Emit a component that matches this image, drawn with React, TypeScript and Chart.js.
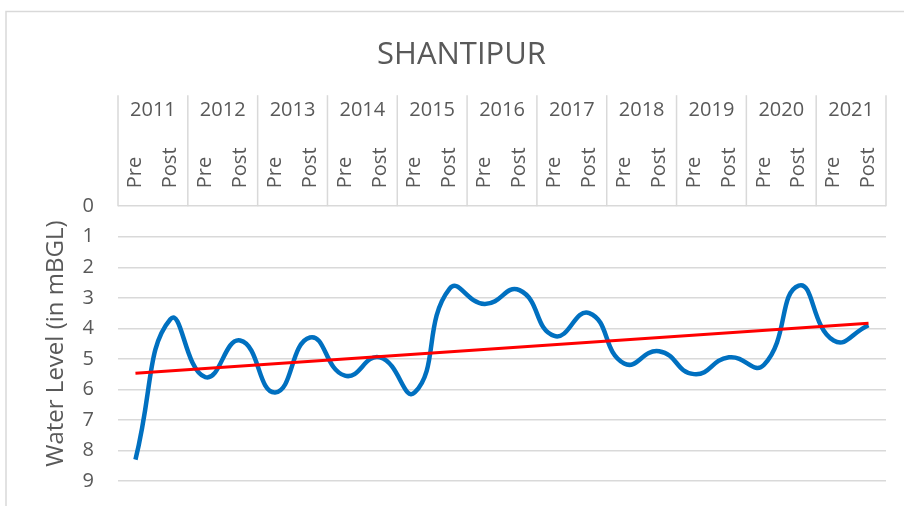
import React, { useEffect, useRef } from "react";
import { Chart, registerables } from "chart.js";

Chart.register(...registerables);

const years = ["2011", "2012", "2013", "2014", "2015", "2016", "2017", "2018", "2019", "2020", "2021"];
const seasons = ["Pre", "Post"];
const preLevels = [8.3, 5.6, 6.1, 5.55, 6.1, 3.2, 4.25, 5.15, 5.5, 5.2, 4.4];
const postLevels = [3.7, 4.4, 4.3, 4.95, 2.7, 2.75, 3.5, 4.75, 4.95, 2.6, 3.9];
const trendEnds = [5.47, 3.83];
const chartTitle = "SHANTIPUR";
const yAxisTitle = "Water Level (in mBGL)";

const FONT = "'Open Sans', 'DejaVu Sans', sans-serif";
const TEXT = "#595959";
const GRID = "#d9d9d9";

const seasonLabels = years.flatMap(() => seasons);
const levelSeries = years.flatMap((_, i) => [preLevels[i], postLevels[i]]);
const trendSeries = seasonLabels.map((_, i) =>
  i === 0 ? trendEnds[0] : i === seasonLabels.length - 1 ? trendEnds[1] : null
);

const framePlugin = {
  id: "frame",
  beforeDraw(chart: any) {
    const { ctx, width, height } = chart;
    ctx.save();
    ctx.fillStyle = "#ffffff";
    ctx.fillRect(0, 0, width, height);
    ctx.strokeStyle = GRID;
    ctx.lineWidth = 1.5;
    ctx.strokeRect(6, 11.5, width + 100, height + 100);
    ctx.restore();
  },
};

const separatorPlugin = {
  id: "yearSeparators",
  afterDraw(chart: any) {
    const { ctx, chartArea } = chart;
    const xs = chart.scales.x;
    const ys = chart.scales.x2;
    const half = (xs.getPixelForValue(1) - xs.getPixelForValue(0)) / 2;
    ctx.save();
    ctx.strokeStyle = GRID;
    ctx.lineWidth = 1.5;
    for (let k = 0; k <= years.length; k++) {
      const x =
        k < years.length
          ? xs.getPixelForValue(2 * k) - half
          : xs.getPixelForValue(2 * k - 1) + half;
      ctx.beginPath();
      ctx.moveTo(x, ys.top);
      ctx.lineTo(x, chartArea.top);
      ctx.stroke();
    }
    ctx.restore();
  },
};

export default function App() {
  const ref = useRef<HTMLCanvasElement | null>(null);

  useEffect(() => {
    if (!ref.current) return;
    const chart = new Chart(ref.current, {
      type: "line",
      data: {
        labels: seasonLabels,
        datasets: [
          {
            label: "Trend",
            data: trendSeries,
            xAxisID: "x",
            borderColor: "#ff0000",
            borderWidth: 3,
            pointRadius: 0,
            tension: 0,
            spanGaps: true,
            order: 0,
          },
          {
            label: "Water Level",
            data: levelSeries,
            xAxisID: "x",
            borderColor: "#0070c0",
            borderWidth: 4.5,
            pointRadius: 0,
            tension: 0.5,
            order: 1,
          },
        ],
      },
      options: {
        responsive: false,
        animation: false,
        layout: { padding: { left: 37, right: 18, top: 0, bottom: 25 } },
        plugins: {
          legend: { display: false },
          tooltip: { enabled: false },
          title: {
            display: true,
            text: chartTitle,
            color: TEXT,
            font: { family: FONT, size: 31, weight: "normal" },
            padding: { top: 37, bottom: 21 },
          },
        },
        scales: {
          x: {
            type: "category",
            position: "top",
            offset: true,
            weight: 0,
            grid: { display: false, drawTicks: false },
            border: { display: false },
            ticks: {
              color: TEXT,
              font: { family: FONT, size: 20 },
              minRotation: 90,
              maxRotation: 90,
              autoSkip: false,
              padding: 18,
              labelOffset: 24,
            },
            afterFit(scale: any) {
              scale.height = 59;
            },
          },
          x2: {
            type: "category",
            position: "top",
            labels: years,
            offset: true,
            weight: 1,
            grid: { display: false, drawTicks: false },
            border: { display: false },
            ticks: {
              color: TEXT,
              font: { family: FONT, size: 20 },
              maxRotation: 0,
              autoSkip: false,
              padding: 25,
            },
            afterFit(scale: any) {
              scale.height = 52;
            },
          },
          y: {
            reverse: true,
            min: 0,
            max: 9,
            grid: {
              color: GRID,
              lineWidth: 1.5,
              drawTicks: true,
              tickLength: 24,
              tickColor: "rgba(0,0,0,0)",
            },
            border: { display: false },
            ticks: {
              stepSize: 1,
              color: TEXT,
              font: { family: FONT, size: 20 },
              padding: 0,
            },
            title: {
              display: true,
              text: yAxisTitle,
              color: TEXT,
              font: { family: FONT, size: 24 },
              padding: { top: 5, bottom: 0 },
            },
            afterFit(scale: any) {
              scale.width = 81;
            },
          },
        },
      },
      plugins: [framePlugin, separatorPlugin],
    });
    return () => chart.destroy();
  }, []);

  return (
    <div style={{ position: "absolute", left: 0, top: 0, width: 904, height: 506 }}>
      <canvas ref={ref} width={904} height={506} />
    </div>
  );
}
